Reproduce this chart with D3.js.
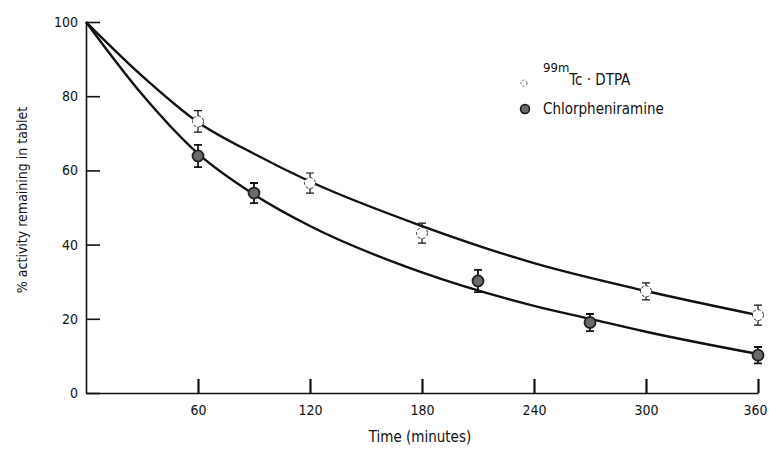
<!DOCTYPE html>
<html>
<head>
<meta charset="utf-8">
<script src="https://cdn.jsdelivr.net/npm/d3@7"></script>
<style>
  body { margin: 0; background: #fff; }
  svg text { font-family: "DejaVu Sans Condensed", "Liberation Sans Narrow", sans-serif; fill: #111; }
</style>
</head>
<body>
<div id="chart-area"></div>
<script>
// measured points (time in minutes, % remaining)
var tcTimes = [60, 120, 180, 300, 360]
var tcValues = [73.2, 56.6, 43.1, 27.4, 21.0]
var tcErr = [2.9, 2.7, 2.7, 2.3, 2.7]

var chlTimes = [60, 90, 210, 270, 360]
var chlValues = [63.9, 53.9, 30.2, 19.0, 10.2]
var chlErr = [3.0, 2.7, 3.0, 2.3, 2.2]

// fitted curves
var tcCurveTimes = [0, 30, 60, 90, 120, 180, 240, 300, 360]
var tcCurveValues = [100, 85.5, 73, 64.5, 57, 45, 35, 27.5, 21]
var chlCurveTimes = [0, 30, 60, 90, 120, 180, 240, 270, 300, 360]
var chlCurveValues = [100, 80.5, 64.5, 53.5, 45, 32.5, 23.5, 20, 16.5, 10.5]

var xTicks = [60, 120, 180, 240, 300, 360]
var yTicks = [0, 20, 40, 60, 80, 100]

var svgWidth = 769, svgHeight = 451

var svg = d3.select("#chart-area").append("svg")
    .attr("width", svgWidth)
    .attr("height", svgHeight)

var xScale = d3.scaleLinear().domain([0, 360]).range([86, 758])
var yScale = d3.scaleLinear().domain([0, 100]).range([393, 22])

// axes, ticks point inwards
var leftAxis = d3.axisLeft(yScale).tickValues(yTicks).tickSizeInner(-14).tickSizeOuter(0).tickPadding(8)
var botAxis = d3.axisBottom(xScale).tickValues(xTicks).tickSizeInner(-14).tickSizeOuter(0).tickPadding(12)

var yAxis = svg.append("g")
    .attr("transform", "translate(" + xScale(0) + ",0)")
    .call(leftAxis)
var xAxis = svg.append("g")
    .attr("transform", "translate(0," + yScale(0) + ")")
    .call(botAxis)

svg.selectAll(".domain").attr("stroke", "#111").attr("stroke-width", 1.6)
svg.selectAll(".tick line").attr("stroke", "#111").attr("stroke-width", 1.6)
svg.selectAll(".tick text").attr("font-size", 14).attr("fill", "#111")
xAxis.selectAll(".tick line").attr("stroke-width", 2.2)
// last label sits against the right edge
xAxis.selectAll(".tick text").filter(d => d == 360).attr("dx", -3)

svg.append("text")
    .attr("x", 420).attr("y", 442)
    .attr("text-anchor", "middle")
    .attr("font-size", 15)
    .text("Time (minutes)")

svg.append("text")
    .attr("transform", "translate(27,200) rotate(-90)")
    .attr("text-anchor", "middle")
    .attr("font-size", 14)
    .text("% activity remaining in tablet")

// curves
var line = d3.line()
    .x(d => xScale(d[0]))
    .y(d => yScale(d[1]))
    .curve(d3.curveMonotoneX)

svg.append("path")
    .datum(d3.zip(tcCurveTimes, tcCurveValues))
    .attr("d", line)
    .attr("fill", "none").attr("stroke", "#111").attr("stroke-width", 2.4)

svg.append("path")
    .datum(d3.zip(chlCurveTimes, chlCurveValues))
    .attr("d", line)
    .attr("fill", "none").attr("stroke", "#111").attr("stroke-width", 2.4)

// error bars + markers
function drawSeries(times, values, errs, filled) {
    var pts = d3.zip(times, values, errs)
    var g = svg.append("g")
    g.selectAll(".err")
        .data(pts)
        .enter().append("path")
        .attr("class", "err")
        .attr("d", d => {
            var x = xScale(d[0]), y0 = yScale(d[1] + d[2]), y1 = yScale(d[1] - d[2])
            return "M" + (x - 4) + "," + y0 + "H" + (x + 4) + "M" + x + "," + y0 + "V" + y1 + "M" + (x - 4) + "," + y1 + "H" + (x + 4)
        })
        .attr("stroke", "#111").attr("stroke-width", filled ? 1.8 : 1.2).attr("fill", "none")
    g.selectAll(".mark")
        .data(pts)
        .enter().append("circle")
        .attr("class", "mark")
        .attr("cx", d => xScale(d[0]))
        .attr("cy", d => yScale(d[1]))
        .attr("r", 5.5)
        .attr("fill", filled ? "#6a6a6a" : "#fff")
        .attr("stroke", "#222")
        .attr("stroke-width", filled ? 1.8 : 0.9)
        .attr("stroke-dasharray", filled ? null : "3,2")
}
drawSeries(tcTimes, tcValues, tcErr, false)
drawSeries(chlTimes, chlValues, chlErr, true)

// legend
var legend = svg.append("g")
legend.append("circle").attr("cx", 524).attr("cy", 83).attr("r", 3)
    .attr("fill", "#fff").attr("stroke", "#333").attr("stroke-width", 0.8).attr("stroke-dasharray", "2,2")
var lt = legend.append("text").attr("x", 543).attr("y", 85).attr("font-size", 15)
lt.append("tspan").attr("dy", -13).attr("font-size", 13).text("99m")
lt.append("tspan").attr("dy", 13).text("Tc \u00b7 DTPA")
legend.append("circle").attr("cx", 525).attr("cy", 109).attr("r", 4.5)
    .attr("fill", "#6a6a6a").attr("stroke", "#111").attr("stroke-width", 1.5)
legend.append("text").attr("x", 543).attr("y", 114).attr("font-size", 15).text("Chlorpheniramine")
</script>
</body>
</html>
